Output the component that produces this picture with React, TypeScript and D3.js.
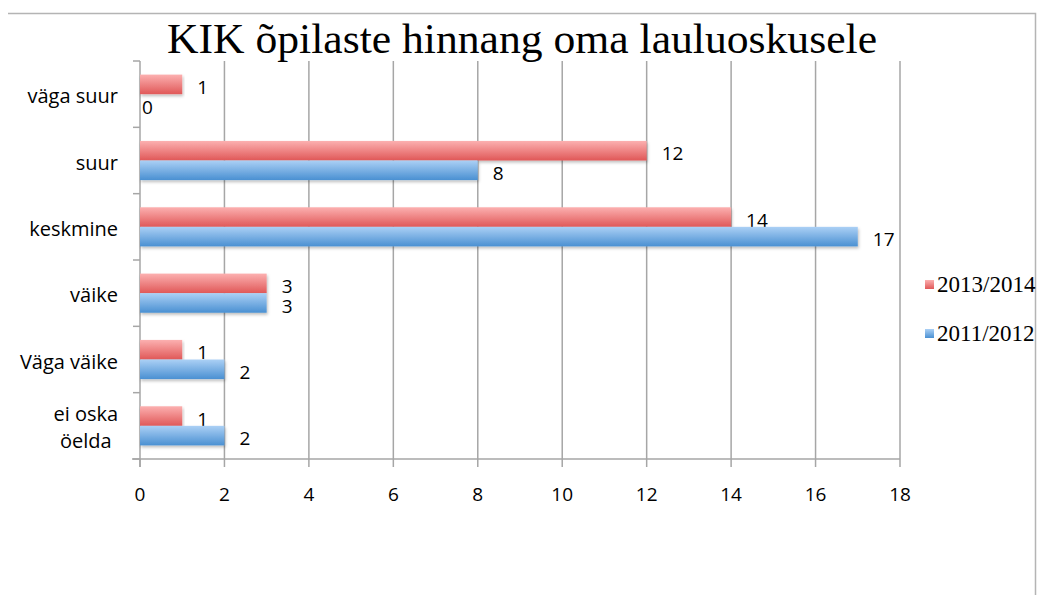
import React from 'react';
import * as d3 from 'd3';

const title = 'KIK õpilaste hinnang oma lauluoskusele';
const categories = ['väga suur', 'suur', 'keskmine', 'väike', 'Väga väike', 'ei oska öelda'];
const seriesNames = ['2013/2014', '2011/2012'];
const values2013 = [1, 12, 14, 3, 1, 1];
const values2011 = [0, 8, 17, 3, 2, 2];
const xTicks = [0, 2, 4, 6, 8, 10, 12, 14, 16, 18];

const W = 1042;
const H = 595;
const plot = { left: 140, right: 900, top: 61, bottom: 459 };
const sans = '"Open Sans", sans-serif';
const serif = '"Liberation Serif", serif';

const gradients = [
  { id: 'gRed', top: '#fcb0b0', bottom: '#e05858' },
  { id: 'gBlue', top: '#abd0f5', bottom: '#4a90d2' },
];

// greedy wrap like excel does for long category names
function wrap(label: string, max = 10) {
  const lines: string[] = [];
  let cur = '';
  label.split(' ').forEach((w) => {
    const next = cur ? cur + ' ' + w : w;
    if (next.length > max && cur) {
      lines.push(cur);
      cur = w;
    } else cur = next;
  });
  lines.push(cur);
  return lines;
}

export default function App() {
  const x = d3.scaleLinear().domain([0, 18]).range([plot.left, plot.right]);
  const y = d3
    .scaleBand<string>()
    .domain(categories)
    .range([plot.top, plot.bottom])
    .paddingInner(0.41)
    .paddingOuter(0.205);
  const sub = d3.scaleBand<string>().domain(seriesNames).range([0, y.bandwidth()]);
  const series = [values2013, values2011];
  const step = y.step();
  const boundaries = d3.range(categories.length + 1).map((i) => plot.top + i * step);

  return (
    <svg width={W} height={H} style={{ position: 'absolute', left: 0, top: 0 }}>
      <defs>
        {gradients.map((g) => (
          <linearGradient key={g.id} id={g.id} x1="0" y1="0" x2="0" y2="1">
            <stop offset="0%" stopColor={g.top} />
            <stop offset="100%" stopColor={g.bottom} />
          </linearGradient>
        ))}
        <filter id="shadow" x="-5%" y="-30%" width="110%" height="170%">
          <feDropShadow dx="1" dy="2" stdDeviation="1.5" floodColor="#000" floodOpacity="0.25" />
        </filter>
      </defs>
      <rect width={W} height={H} fill="#fff" />
      <path d={`M8,13.5H1035.5V${H}`} fill="none" stroke="#b4b4b4" strokeWidth={1.5} />

      <text
        x={522}
        y={53}
        textAnchor="middle"
        fontFamily={serif}
        fontSize={42}
        textLength={710}
        lengthAdjust="spacingAndGlyphs"
      >
        {title}
      </text>

      {/* grid + x ticks */}
      {xTicks.map((t) => (
        <g key={t}>
          {t > 0 && (
            <line x1={x(t)} x2={x(t)} y1={plot.top} y2={plot.bottom} stroke="#a6a6a6" strokeWidth={1.5} />
          )}
          <line x1={x(t)} x2={x(t)} y1={plot.bottom} y2={plot.bottom + 8} stroke="#a6a6a6" strokeWidth={1.5} />
          <text x={x(t)} y={plot.bottom + 42} textAnchor="middle" fontFamily={sans} fontSize={19} fill="#000">
            {t}
          </text>
        </g>
      ))}
      <line x1={plot.left - 8} x2={plot.right} y1={plot.bottom} y2={plot.bottom} stroke="#a6a6a6" strokeWidth={1.5} />
      <line x1={plot.left} x2={plot.left} y1={plot.top} y2={plot.bottom + 8} stroke="#a6a6a6" strokeWidth={1.5} />
      {boundaries.map((b, i) => (
        <line key={i} x1={plot.left - 7} x2={plot.left} y1={b} y2={b} stroke="#a6a6a6" strokeWidth={1.5} />
      ))}

      {/* bars */}
      {categories.map((c, i) => (
        <g key={c}>
          {series.map((vals, s) => {
            const y0 = (y(c) ?? 0) + (sub(seriesNames[s]) ?? 0);
            const h = sub.bandwidth();
            return (
              <g key={s}>
                {vals[i] > 0 && (
                  <rect
                    x={x(0)}
                    y={y0}
                    width={x(vals[i]) - x(0)}
                    height={h}
                    fill={`url(#${gradients[s].id})`}
                    filter="url(#shadow)"
                  />
                )}
                <text
                  x={x(vals[i]) + (vals[i] > 0 ? 15 : 2)}
                  y={y0 + h / 2 + 3}
                  dy="0.35em"
                  fontFamily={sans}
                  fontSize={19}
                  fill="#000"
                >
                  {vals[i]}
                </text>
              </g>
            );
          })}
          {(() => {
            const lines = wrap(c);
            const cy = (y(c) ?? 0) + y.bandwidth() / 2;
            const lh = 27;
            const longest = d3.max(lines, (l) => l.length) ?? 0;
            const multi = lines.length > 1;
            return lines.map((l, k) => (
              <text
                key={k}
                x={multi ? plot.left - 22 - longest * 4.6 : plot.left - 22}
                y={cy + (k - (lines.length - 1) / 2) * lh + 2}
                dy="0.35em"
                textAnchor={multi ? 'middle' : 'end'}
                fontFamily={sans}
                fontSize={20}
                fill="#000"
              >
                {l}
              </text>
            ));
          })()}
        </g>
      ))}

      {/* legend */}
      {seriesNames.map((n, s) => (
        <g key={n} transform={`translate(925,${284 + s * 49})`}>
          <rect x={0} y={-4} width={9} height={9} fill={`url(#${gradients[s].id})`} />
          <text x={12} y={0} dy="0.35em" fontFamily={serif} fontSize={23} fill="#000">
            {n}
          </text>
        </g>
      ))}
    </svg>
  );
}
